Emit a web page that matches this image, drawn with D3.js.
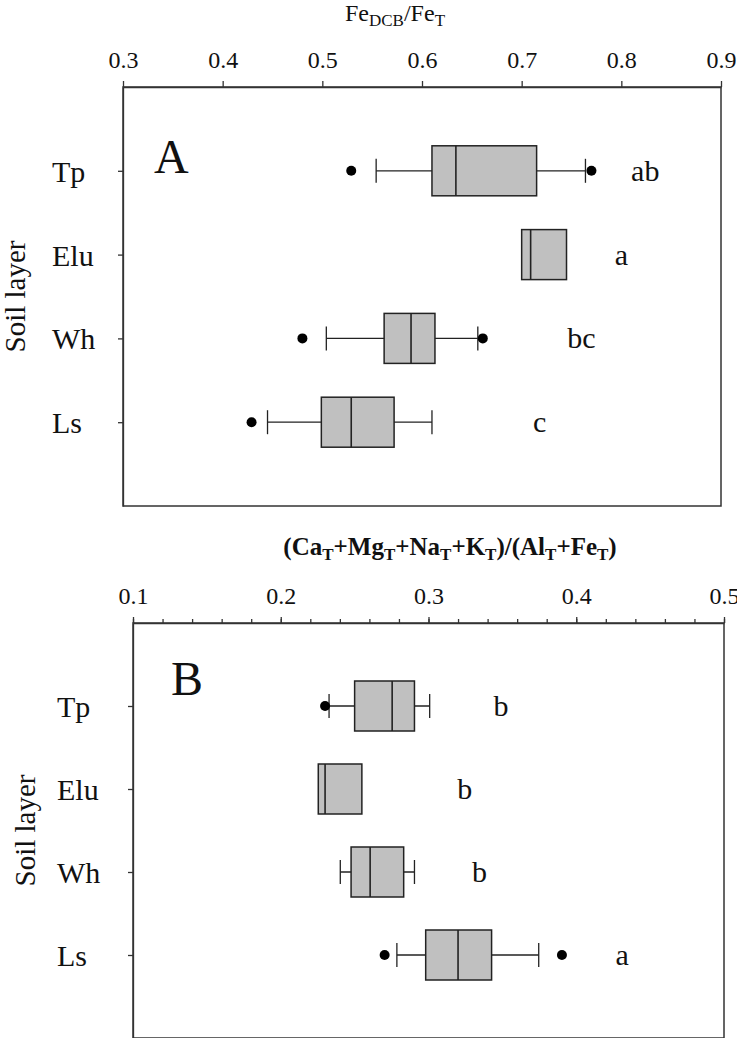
<!DOCTYPE html>
<html>
<head>
<meta charset="utf-8">
<script src="https://cdn.jsdelivr.net/npm/d3@7"></script>
<style>
  body { margin: 0; background: #fff; }
  svg text { font-family: "Liberation Serif", "Times New Roman", serif; fill: #111; }
  .frame { fill: none; stroke: #333; stroke-width: 1.5; }
  .box { fill: #c0c0c0; stroke: #222; stroke-width: 1.5; }
  .whisker { stroke: #222; stroke-width: 1.3; }
  .outlier { fill: #000; }
  .axis path, .axis line { stroke: #333; stroke-width: 1.3; }
  .axis text { font-size: 24px; }
</style>
</head>
<body>
<script>
var layers = ["Tp", "Elu", "Wh", "Ls"];

// panel A: FeDCB/FeT
var feLow = [0.554, null, 0.504, 0.445],
    feQ1 = [0.610, 0.700, 0.562, 0.499],
    feMedian = [0.634, 0.709, 0.589, 0.529],
    feQ3 = [0.715, 0.745, 0.613, 0.572],
    feHigh = [0.764, null, 0.656, 0.610],
    feOutliers = [[0.529, 0.770], [], [0.480, 0.661], [0.429]],
    feLetters = ["ab", "a", "bc", "c"],
    feLetterAt = [0.824, 0.800, 0.760, 0.718],
    feTicks = [0.3, 0.4, 0.5, 0.6, 0.7, 0.8, 0.9];

// panel B: (CaT+MgT+NaT+KT)/(AlT+FeT)
var cbLow = [0.2327, null, 0.2403, 0.2786],
    cbQ1 = [0.250, 0.2254, 0.2476, 0.2981],
    cbMedian = [0.2754, 0.230, 0.2605, 0.320],
    cbQ3 = [0.2905, 0.2549, 0.2832, 0.3427],
    cbHigh = [0.3008, null, 0.2905, 0.3746],
    cbOutliers = [[0.230], [], [], [0.2703, 0.3903]],
    cbLetters = ["b", "b", "b", "a"],
    cbLetterAt = [0.349, 0.3246, 0.3346, 0.431],
    cbTicks = [0.1, 0.2, 0.3, 0.4, 0.5],
    cbMinorTicks = d3.range(0.1, 0.5001, 0.02);

var svg = d3.select("body")
            .append("svg")
            .attr("width", 737)
            .attr("height", 1038);

function panel(p) {
  var g = svg.append("g");
  var x = d3.scaleLinear().domain(p.domain).range([p.left, p.right]);
  var y = d3.scalePoint().domain(layers).range([p.top, p.bottom]).padding(1);
  var rows = layers.map(function(d, i) {
    return { name: d, low: p.low[i], q1: p.q1[i], med: p.median[i], q3: p.q3[i],
             high: p.high[i], out: p.outliers[i], letter: p.letters[i], letterAt: p.letterAt[i] };
  });

  g.append("rect")
   .attr("class", "frame")
   .attr("x", p.left)
   .attr("y", p.top)
   .attr("width", p.right - p.left)
   .attr("height", p.bottom - p.top);

  if (p.minor) {
    g.append("g")
     .attr("class", "axis")
     .attr("transform", "translate(0," + p.top + ")")
     .call(d3.axisTop(x).tickValues(p.minor).tickSize(4).tickFormat(""))
     .select(".domain").remove();
  }
  g.append("g")
   .attr("class", "axis")
   .attr("transform", "translate(0," + p.top + ")")
   .call(d3.axisTop(x).tickValues(p.ticks).tickSize(6).tickSizeOuter(0).tickPadding(13).tickFormat(d3.format(".1f")));

  g.append("g")
   .attr("class", "axis")
   .attr("transform", "translate(" + p.left + ",0)")
   .call(d3.axisLeft(y).tickSize(5).tickSizeOuter(0).tickFormat(""));

  g.selectAll(".layer")
   .data(rows)
   .enter()
   .append("text")
   .attr("class", "layer")
   .attr("x", p.labelX)
   .attr("y", function(d) { return y(d.name) + 11 })
   .style("font-size", "30px")
   .text(function(d) { return d.name });

  g.append("text")
   .attr("transform", "translate(" + p.titleYX + "," + ((p.top + p.bottom) / 2) + ") rotate(-90)")
   .attr("text-anchor", "middle")
   .style("font-size", "29px")
   .text("Soil layer");

  var whisk = rows.filter(function(d) { return d.low != null });
  g.selectAll(".wline")
   .data(whisk)
   .enter()
   .append("line")
   .attr("class", "whisker")
   .attr("x1", function(d) { return x(d.low) })
   .attr("x2", function(d) { return x(d.high) })
   .attr("y1", function(d) { return y(d.name) })
   .attr("y2", function(d) { return y(d.name) });

  ["low", "high"].forEach(function(k) {
    g.selectAll(".cap-" + k)
     .data(whisk)
     .enter()
     .append("line")
     .attr("class", "whisker")
     .attr("x1", function(d) { return x(d[k]) })
     .attr("x2", function(d) { return x(d[k]) })
     .attr("y1", function(d) { return y(d.name) - 12 })
     .attr("y2", function(d) { return y(d.name) + 12 });
  });

  g.selectAll(".box")
   .data(rows)
   .enter()
   .append("rect")
   .attr("class", "box")
   .attr("x", function(d) { return x(d.q1) })
   .attr("y", function(d) { return y(d.name) - 25 })
   .attr("width", function(d) { return x(d.q3) - x(d.q1) })
   .attr("height", 50);

  g.selectAll(".median")
   .data(rows)
   .enter()
   .append("line")
   .attr("class", "whisker")
   .style("stroke-width", 1.6)
   .attr("x1", function(d) { return x(d.med) })
   .attr("x2", function(d) { return x(d.med) })
   .attr("y1", function(d) { return y(d.name) - 25 })
   .attr("y2", function(d) { return y(d.name) + 25 });

  rows.forEach(function(r) {
    g.selectAll(null)
     .data(r.out)
     .enter()
     .append("circle")
     .attr("class", "outlier")
     .attr("cx", function(d) { return x(d) })
     .attr("cy", y(r.name))
     .attr("r", 5);
  });

  g.selectAll(".letter")
   .data(rows)
   .enter()
   .append("text")
   .attr("class", "letter")
   .attr("x", function(d) { return x(d.letterAt) })
   .attr("y", function(d) { return y(d.name) + 10 })
   .attr("text-anchor", "middle")
   .style("font-size", "30px")
   .text(function(d) { return d.letter });

  g.append("text")
   .attr("x", p.tagX)
   .attr("y", p.tagY)
   .style("font-size", "48px")
   .text(p.tag);

  return g;
}

var gA = panel({
  domain: [0.3, 0.9], left: 123, right: 721, top: 87, bottom: 506,
  low: feLow, q1: feQ1, median: feMedian, q3: feQ3, high: feHigh,
  outliers: feOutliers, letters: feLetters, letterAt: feLetterAt,
  ticks: feTicks, minor: null, labelX: 52, titleYX: 25, tag: "A", tagX: 154, tagY: 173
});

var tA = gA.append("text")
           .attr("x", 395)
           .attr("y", 21)
           .attr("text-anchor", "middle")
           .style("font-size", "24px");
tA.append("tspan").text("Fe");
tA.append("tspan").attr("dy", 5).style("font-size", "17px").text("DCB");
tA.append("tspan").attr("dy", -5).text("/Fe");
tA.append("tspan").attr("dy", 5).style("font-size", "17px").text("T");

var gB = panel({
  domain: [0.1, 0.5], left: 133, right: 724, top: 623, bottom: 1038,
  low: cbLow, q1: cbQ1, median: cbMedian, q3: cbQ3, high: cbHigh,
  outliers: cbOutliers, letters: cbLetters, letterAt: cbLetterAt,
  ticks: cbTicks, minor: cbMinorTicks, labelX: 57, titleYX: 35, tag: "B", tagX: 171, tagY: 695
});

var tB = gB.append("text")
           .attr("x", 450)
           .attr("y", 555)
           .attr("text-anchor", "middle")
           .style("font-size", "25px")
           .style("font-weight", "bold");
[["(Ca", "T"], ["+Mg", "T"], ["+Na", "T"], ["+K", "T"], [")/(Al", "T"], ["+Fe", "T"], [")", null]]
  .forEach(function(part) {
    tB.append("tspan").attr("dy", part[0] == "(Ca" ? 0 : -5).text(part[0]);
    if (part[1]) tB.append("tspan").attr("dy", 5).style("font-size", "17px").text(part[1]);
  });
</script>
</body>
</html>
